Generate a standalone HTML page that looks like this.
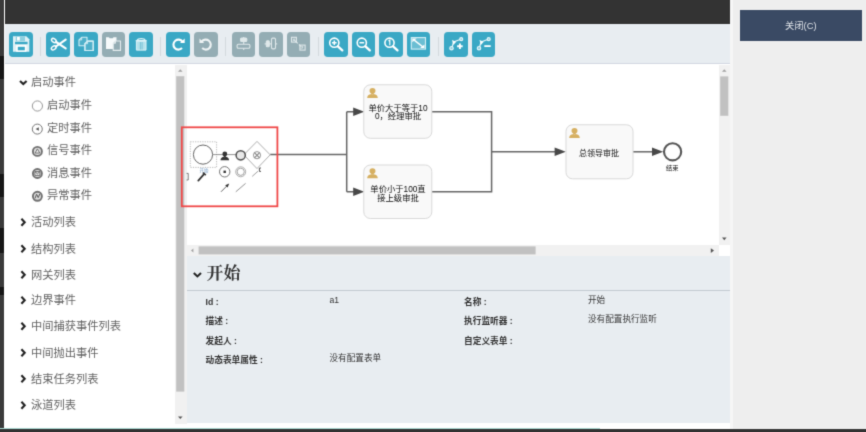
<!DOCTYPE html>
<html lang="zh-CN">
<head>
<meta charset="utf-8">
<title>流程设计器</title>
<style>
html,body{margin:0;padding:0;}
html{overflow:hidden;background:#333;}
body{width:866px;height:432px;overflow:hidden;position:relative;background:#333;font-family:"Liberation Sans","Noto Sans CJK SC",sans-serif;}
#wrap{position:absolute;left:-20px;top:-20px;width:906px;height:472px;overflow:hidden;background:#333;filter:url(#soft);}
#page{position:absolute;left:20px;top:20px;width:866px;height:432px;}
.abs{position:absolute;}
#leftstrip{left:-20px;top:-20px;width:23.8px;height:472px;background:#3a3a3a;}
.dk{position:absolute;left:-20px;width:23.6px;background:#161616;}
#main{left:4.2px;top:-20px;width:729px;height:448.5px;background:#fff;}
#rstrip{left:729.5px;top:-20px;width:3.2px;height:448.5px;background:#f6f6f6;}
#topbar{left:5px;top:-20px;width:724.5px;height:44px;background:#333;}
#toolbar{left:5px;top:24px;width:724.5px;height:38.9px;background:#e8edf1;border-bottom:1.5px solid #d3d8e2;}
.tb{position:absolute;top:32.4px;width:23.8px;height:24.2px;border-radius:3.8px;background:#3aa8c5;}
.tb.dis{background:#94adb4;}
.sep{position:absolute;top:36.5px;width:1px;height:19px;background:#d3d9de;}
#right{left:732.5px;top:-20px;width:153.5px;height:448.5px;background:#eee;}
#closebtn{left:740px;top:9.5px;width:121.5px;height:31px;background:#3a4a64;color:#dfe3e8;font-size:9.3px;line-height:33.4px;text-align:center;}
#palette{left:5px;top:64.5px;width:170.4px;height:359px;background:#fff;}
.ph{position:absolute;left:31px;font-size:11.25px;color:#636363;line-height:14px;white-space:nowrap;}
.pi{position:absolute;left:47px;font-size:11.25px;color:#636363;line-height:14px;white-space:nowrap;}
#pscroll{left:175.4px;top:64.5px;width:11.4px;height:359px;background:#f1f1f1;}
#canvas{left:186.8px;top:64.5px;width:532.2px;height:180.4px;background:#fff;}
#vscroll{left:719px;top:64.5px;width:10.7px;height:180.4px;background:#f1f1f1;}
#hscroll{left:186.8px;top:244.9px;width:532.2px;height:10.9px;background:#f1f1f1;}
#props{left:186.8px;top:255.7px;width:542.9px;height:167.7px;background:#e8edf1;}
#ptitle{left:206.5px;top:263.2px;font-family:"Liberation Serif","Noto Serif CJK SC",serif;font-weight:bold;font-size:16.9px;line-height:22px;color:#333;}
#pdiv{left:186.8px;top:290.3px;width:542.9px;height:1px;background:#c3cad1;}
.pl{position:absolute;font-size:8.7px;font-weight:bold;color:#333;line-height:10px;white-space:nowrap;}
.pv{position:absolute;font-size:8.6px;color:#333;line-height:10px;white-space:nowrap;}
#tealline{left:-20px;top:427.8px;width:620px;height:1.2px;background:#a9d9d2;}
#bottom{left:-20px;top:429px;width:906px;height:23px;background:#333;}
</style>
</head>
<body>
<svg width="0" height="0" style="position:absolute"><filter id="soft" x="0" y="0" width="100%" height="100%" color-interpolation-filters="sRGB"><feConvolveMatrix order="3" kernelMatrix="0.01917 0.10012 0.01917 0.10012 0.52283 0.10012 0.01917 0.10012 0.01917" divisor="1" edgeMode="duplicate" preserveAlpha="true"/></filter></svg>
<div id="wrap"><div id="page">
<div id="leftstrip" class="abs"></div>
<div class="dk" style="top:55.5px;height:23.5px"></div><div class="dk" style="top:174px;height:23px"></div><div class="dk" style="top:228px;height:24.5px"></div><div class="dk" style="top:287px;height:8px"></div>
<div id="main" class="abs"></div>
<div id="right" class="abs"></div>
<div id="rstrip" class="abs"></div>
<div id="topbar" class="abs"></div>
<div id="toolbar" class="abs"></div>
<div class="tb" style="left:9px"></div>
<div class="tb" style="left:46.3px"></div>
<div class="tb" style="left:74.1px"></div>
<div class="tb dis" style="left:101.7px"></div>
<div class="tb" style="left:129.2px"></div>
<div class="tb" style="left:166.4px"></div>
<div class="tb dis" style="left:194px"></div>
<div class="tb dis" style="left:231.7px"></div>
<div class="tb dis" style="left:259.2px"></div>
<div class="tb dis" style="left:286.7px"></div>
<div class="tb" style="left:324px"></div>
<div class="tb" style="left:351.5px"></div>
<div class="tb" style="left:379.2px"></div>
<div class="tb" style="left:406.7px"></div>
<div class="tb" style="left:444.2px"></div>
<div class="tb" style="left:471.7px"></div>
<div class="sep" style="left:40px"></div>
<div class="sep" style="left:160px"></div>
<div class="sep" style="left:225px"></div>
<div class="sep" style="left:317.5px"></div>
<div class="sep" style="left:437.7px"></div>
<div id="closebtn" class="abs">关闭(C)</div>
<div id="palette" class="abs"></div>
<div class="ph" style="top:75px">启动事件</div>
<div class="pi" style="top:98px">启动事件</div>
<div class="pi" style="top:120.5px">定时事件</div>
<div class="pi" style="top:143px">信号事件</div>
<div class="pi" style="top:165.5px">消息事件</div>
<div class="pi" style="top:188px">异常事件</div>
<div class="ph" style="top:215px">活动列表</div>
<div class="ph" style="top:241.5px">结构列表</div>
<div class="ph" style="top:267.5px">网关列表</div>
<div class="ph" style="top:293px">边界事件</div>
<div class="ph" style="top:319px">中间捕获事件列表</div>
<div class="ph" style="top:345.5px">中间抛出事件</div>
<div class="ph" style="top:371.5px">结束任务列表</div>
<div class="ph" style="top:398px">泳道列表</div>
<div id="pscroll" class="abs"></div>
<div id="canvas" class="abs"></div>
<div id="vscroll" class="abs"></div>
<div id="hscroll" class="abs"></div>
<div id="props" class="abs"></div>
<div id="ptitle" class="abs">开始</div>
<div id="pdiv" class="abs"></div>
<div class="pl" style="left:205.5px;top:297px">Id :</div>
<div class="pl" style="left:205.5px;top:316.3px">描述 :</div>
<div class="pl" style="left:205.5px;top:335.5px">发起人 :</div>
<div class="pl" style="left:205.5px;top:354.7px">动态表单属性 :</div>
<div class="pv" style="left:329.5px;top:294.6px">a1</div>
<div class="pv" style="left:329.5px;top:352.6px">没有配置表单</div>
<div class="pl" style="left:464px;top:297px">名称 :</div>
<div class="pl" style="left:464px;top:316.3px">执行监听器 :</div>
<div class="pl" style="left:464px;top:335.5px">自定义表单 :</div>
<div class="pv" style="left:588px;top:294.6px">开始</div>
<div class="pv" style="left:588px;top:313.9px">没有配置执行监听</div>
<svg class="abs" style="left:0;top:0" width="866" height="432" viewBox="0 0 866 432">
<g transform="translate(9,32.5)"><path d="M4,3.8H17.3L20.3,6.8V19.3H4Z" fill="#dff1f6"/><rect x="6.8" y="3.8" width="9.2" height="4.9" fill="#8fd0e0"/><rect x="8" y="4.4" width="2.8" height="3.6" fill="#fff"/><rect x="6" y="9.3" width="12.6" height="2.4" fill="#3aa8c5"/><rect x="7.2" y="12.6" width="10.2" height="6.7" fill="#fff"/><rect x="8.8" y="14.3" width="7" height="3.5" fill="#3aa8c5"/></g>
<g transform="translate(46.3,32.5)"><g fill="none" stroke="#fff" stroke-width="1.4" stroke-linecap="round"><ellipse cx="7.6" cy="8" rx="2.6" ry="1.7" transform="rotate(35 7.6 8)"/><ellipse cx="7.4" cy="15.4" rx="2.6" ry="1.7" transform="rotate(-35 7.4 15.4)"/><path d="M9.8,9.5L19.4,15.8M9.6,14L19.4,7.1" stroke-width="2.1"/></g></g>
<g transform="translate(74.1,32.5)"><g fill="rgba(255,255,255,0.10)" stroke="#d4eef5" stroke-width="1.1" stroke-linejoin="round"><path d="M4.9,7.4L7.6,4.8H12.9V13.3H4.9Z"/><path d="M4.9,7.4H7.6V4.8" fill="none" stroke-width="0.9"/><path d="M10.8,11.2L13.5,8.6H19.1V18H10.8Z" fill="#3aa8c5"/><path d="M10.8,11.2L13.5,8.6H19.1V18H10.8Z"/><path d="M10.8,11.2H13.5V8.6" fill="none" stroke-width="0.9"/></g></g>
<g transform="translate(101.7,32.5)"><path d="M4.3,4.8H7.2L8,5.8H11L11.8,4.8H14.8V16.4H4.3Z" fill="#f6fafb"/><path d="M11.5,10.8L13.8,8.5H18.8V17.9H11.5Z" fill="#94adb4" stroke="#e4ecee" stroke-width="1.1" stroke-linejoin="round"/><path d="M11.5,10.8H13.8V8.5" fill="none" stroke="#e4ecee" stroke-width="0.9"/></g>
<g transform="translate(129.2,32.5)"><g fill="#b4e2ec" stroke="#dff3f8" stroke-width="1"><path d="M7.2,8.6H16.8V17.6H7.2Z"/><path d="M6.5,8.2H17.5M8,8C8.6,5.6 15.4,5.6 16,8" fill="none" stroke-width="1.2"/><path d="M11.2,9.5V17M12.9,9.5V17" stroke="#6fbfd5" stroke-width="0.9"/></g></g>
<g transform="translate(166.4,32.5)"><path d="M16.1,9.2A5,5 0 1 0 15.6,15.6" fill="none" stroke="#fff" stroke-width="2.1"/><path d="M13.6,10.6H18.3V5.9Z" fill="#fff"/></g>
<g transform="translate(194,32.5)"><g transform="translate(23.8,0) scale(-1,1)"><path d="M16.1,9.2A5,5 0 1 0 15.6,15.6" fill="none" stroke="#eef3f4" stroke-width="2.1"/><path d="M13.6,10.6H18.3V5.9Z" fill="#eef3f4"/></g></g>
<g transform="translate(231.7,32.5)"><g stroke="#dfe8ea" fill="none" stroke-width="1.1"><path d="M12,4.4V17.6"/><rect x="8.9" y="5.6" width="6.2" height="3.4" rx="1" fill="#dfe8ea"/><rect x="5.4" y="11.8" width="12.8" height="4" rx="1.3" fill="#94adb4"/></g></g>
<g transform="translate(259.2,32.5)"><g stroke="#dfe8ea" fill="none" stroke-width="1.1"><path d="M5.4,11.4H18"/><rect x="7.1" y="8.3" width="3" height="6" rx="1" fill="#dfe8ea"/><rect x="12.3" y="5.6" width="4" height="10.8" rx="1.3" fill="#94adb4"/></g></g>
<g transform="translate(286.7,32.5)"><g stroke="#dfe8ea" fill="none" stroke-width="1.1"><rect x="4.8" y="4.8" width="4.9" height="4.8"/><rect x="13.2" y="12.6" width="5.2" height="5"/><path d="M7.4,7.4L11,10.8M12.2,12L14.8,14.4" stroke-width="1.1"/><path d="M8.6,6.6H6.6V8.6M13.6,15.6H16V13.4" stroke-width="0.9"/></g></g>
<g transform="translate(324,32.5)"><g fill="none" stroke="#fff"><circle cx="10.3" cy="10.2" r="4.6" stroke-width="1.6"/><path d="M13.9,13.8L18.3,17.9" stroke-width="2.3" stroke-linecap="round"/><path d="M8,10.2H12.6M10.3,7.9V12.5" stroke-width="1.5"/></g></g>
<g transform="translate(351.5,32.5)"><g fill="none" stroke="#fff"><circle cx="10.3" cy="10.2" r="4.6" stroke-width="1.6"/><path d="M13.9,13.8L18.3,17.9" stroke-width="2.3" stroke-linecap="round"/><path d="M8,10.2H12.6" stroke-width="1.5"/></g></g>
<g transform="translate(379.2,32.5)"><g fill="none" stroke="#fff"><circle cx="10.3" cy="10.2" r="4.6" stroke-width="1.6"/><path d="M13.9,13.8L18.3,17.9" stroke-width="2.3" stroke-linecap="round"/><path d="M9.3,8.6L10.6,7.7V12.8" stroke-width="1.2"/></g></g>
<g transform="translate(406.7,32.5)"><rect x="4.6" y="5.1" width="14.2" height="11.5" fill="rgba(255,255,255,0.25)" stroke="#d8f0f6" stroke-width="1.1"/><path d="M7.5,7.6L16,14.2" stroke="#fff" stroke-width="1.4"/><path d="M5.6,6.1H10L5.6,9.8ZM17.8,15.6H13.4L17.8,11.9Z" fill="#fff"/></g>
<g transform="translate(444.2,32.5)"><g stroke="#e6f5f9" fill="none" stroke-width="1.2"><path d="M7.6,15.5L9.4,9.4L16.6,6.8"/><circle cx="7.3" cy="15.7" r="1.7" fill="#8fd0e0"/><circle cx="17" cy="6.7" r="1.5" fill="#8fd0e0"/><path d="M7.8,7.6L12,9.2L9.2,12.4Z" fill="#fff" stroke="none"/><path d="M12.9,13.7H18.5M15.7,10.9V16.5" stroke="#fff" stroke-width="1.9"/></g></g>
<g transform="translate(471.7,32.5)"><g stroke="#e6f5f9" fill="none" stroke-width="1.2"><path d="M7.6,15.5L9.4,9.4L16.6,6.8"/><circle cx="7.3" cy="15.7" r="1.7" fill="#8fd0e0"/><circle cx="17" cy="6.7" r="1.5" fill="#8fd0e0"/><path d="M7.8,7.6L12,9.2L9.2,12.4Z" fill="#fff" stroke="none"/><path d="M12.6,13.6H19" stroke="#fff" stroke-width="1.8"/></g></g>
<g>
<rect x="176.2" y="76.2" width="8.1" height="315.4" fill="#c1c1c1"/>
<path d="M178,71.8L180.3,69.2L182.6,71.8Z" fill="#a0a0a0"/>
<path d="M178,416.4L180.3,419L182.6,416.4Z" fill="#555"/>
<rect x="720.2" y="76.4" width="8.1" height="39.4" fill="#c1c1c1"/>
<path d="M722,71.8L724.3,69.2L726.6,71.8Z" fill="#a0a0a0"/>
<path d="M722,237.6L724.3,240.2L726.6,237.6Z" fill="#555"/>
<rect x="198.6" y="246.4" width="337" height="8" fill="#c1c1c1"/>
<path d="M193.4,248.6L191,250.6L193.4,252.6Z" fill="#a0a0a0"/>
<path d="M710.8,248.2L714,250.6L710.8,253Z" fill="#555"/>
</g>
<g id="diagram" font-family="'Liberation Sans','Noto Sans CJK SC',sans-serif">
<g fill="none" stroke="#666" stroke-width="1.5">
<path d="M270.2,154.6H346.7M346.7,111.7V191.7M346.7,111.7H356M346.7,191.7H356"/>
<path d="M432,111.7H491.6V191.7H432M491.6,151.8H556"/>
<path d="M633,151.8H654"/>
</g>
<g fill="#484848"><path d="M353.2,107.5L364.2,111.7L353.2,115.9Z"/><path d="M353.2,187.5L364.2,191.7L353.2,195.9Z"/>
<path d="M554.6,147.6L565.8,151.8L554.6,156Z"/><path d="M652,147.6L663.2,151.8L652,156Z"/></g>
<g fill="#f9f9f9" stroke="#d9d9d9" stroke-width="1">
<rect x="363.8" y="84.8" width="68" height="53.5" rx="6.5"/>
<rect x="363.8" y="165" width="68" height="53.5" rx="6.5"/>
<rect x="566" y="124.8" width="67" height="54" rx="6.5"/>
</g>
<g transform="translate(367,87.6) scale(1.1,1.04)" fill="#d6b062"><circle cx="5" cy="3" r="2.7"/><path d="M0.2,10C0.2,7.2 2.4,6.4 3.8,6.1L5,6.6L6.2,6.1C7.6,6.4 9.8,7.2 9.8,10Z"/><rect x="3.9" y="4.6" width="2.2" height="2"/></g><g transform="translate(367,167.9) scale(1.1,1.04)" fill="#d6b062"><circle cx="5" cy="3" r="2.7"/><path d="M0.2,10C0.2,7.2 2.4,6.4 3.8,6.1L5,6.6L6.2,6.1C7.6,6.4 9.8,7.2 9.8,10Z"/><rect x="3.9" y="4.6" width="2.2" height="2"/></g><g transform="translate(569,127.6) scale(1.1,1.04)" fill="#d6b062"><circle cx="5" cy="3" r="2.7"/><path d="M0.2,10C0.2,7.2 2.4,6.4 3.8,6.1L5,6.6L6.2,6.1C7.6,6.4 9.8,7.2 9.8,10Z"/><rect x="3.9" y="4.6" width="2.2" height="2"/></g>
<g font-size="8.3" fill="#0d0d0d" text-anchor="middle">
<text x="398" y="110.5">单价大于等于10</text><text x="398" y="119.2">0，经理审批</text>
<text x="398" y="192.2">单价小于100直</text><text x="398" y="200.6">接上级审批</text>
<text x="599" y="156.2" font-size="8">总领导审批</text>
<text x="672.3" y="170" font-size="6.2">结束</text>
</g>
<circle cx="672.6" cy="151.8" r="8.6" fill="#fff" stroke="#555" stroke-width="2.1"/>
<rect x="181.8" y="127.3" width="95.6" height="79" fill="none" stroke="#f04848" stroke-width="1.8"/>
<rect x="190.3" y="141.8" width="26.3" height="25.6" fill="none" stroke="#aaa" stroke-width="0.8" stroke-dasharray="1.2,1.2"/>
<circle cx="203" cy="154.6" r="9.6" fill="#fff" stroke="#666" stroke-width="1"/>
<text x="204" y="171.6" font-size="4.5" fill="#7aa0c8" text-anchor="middle">开始</text>
<path d="M212.8,154.6H236" stroke="#777" stroke-width="0.8"/>
<g transform="translate(220.3,151.3) scale(0.9,0.9)" fill="#333"><circle cx="5" cy="3" r="2.7"/><path d="M0.2,10C0.2,7.2 2.4,6.4 3.8,6.1L5,6.6L6.2,6.1C7.6,6.4 9.8,7.2 9.8,10Z"/><rect x="3.9" y="4.6" width="2.2" height="2"/></g>
<path d="M257,141.4L270.2,154.8L257,168.6L243.8,154.8Z" fill="#fff" stroke="#999" stroke-width="0.8"/>
<circle cx="240.7" cy="155.3" r="4.6" fill="#e8e8e8" stroke="#505050" stroke-width="1.5"/>
<g stroke="#888" stroke-width="0.9" fill="none"><circle cx="257" cy="155.2" r="3.6"/><path d="M254.4,152.6L259.6,157.8M259.6,152.6L254.4,157.8" stroke-width="1.2"/></g>
<circle cx="224.7" cy="171.8" r="5.2" fill="#fff" stroke="#666" stroke-width="0.9"/><rect x="223.5" y="170.6" width="2.4" height="2.4" fill="#333"/>
<circle cx="240.7" cy="171.8" r="5" fill="#fff" stroke="#999" stroke-width="0.8"/><circle cx="240.7" cy="171.8" r="3.6" fill="none" stroke="#999" stroke-width="0.9"/>
<path d="M252.2,176.4L258,171.2" stroke="#888" stroke-width="0.8"/><path d="M261,168H259.4V171.4H261" stroke="#444" stroke-width="0.9" fill="none"/>
<path d="M198.3,180.6L203.6,174.6" stroke="#333" stroke-width="1.8" stroke-linecap="round"/><path d="M203,172.6L205.8,175.2" stroke="#333" stroke-width="1.6"/>
<path d="M186.6,173.4H188.2V180H186.6" stroke="#555" stroke-width="0.8" fill="none"/>
<path d="M221,191.8L227.6,185.2" stroke="#555" stroke-width="0.9"/><path d="M229.2,183.6L225.2,185.2L227.6,187.6Z" fill="#333"/>
<path d="M235.8,191.8L245.6,183.4" stroke="#777" stroke-width="0.8"/>
</g>
<path d="M20,80.9L23.3,84.0L26.6,80.9" fill="none" stroke="#222" stroke-width="2.1"/><path d="M21.4,218.8L24.7,222.3L21.4,225.8" fill="none" stroke="#222" stroke-width="2.1"/><path d="M21.4,245.3L24.7,248.8L21.4,252.3" fill="none" stroke="#222" stroke-width="2.1"/><path d="M21.4,271.3L24.7,274.8L21.4,278.3" fill="none" stroke="#222" stroke-width="2.1"/><path d="M21.4,296.8L24.7,300.3L21.4,303.8" fill="none" stroke="#222" stroke-width="2.1"/><path d="M21.4,322.8L24.7,326.3L21.4,329.8" fill="none" stroke="#222" stroke-width="2.1"/><path d="M21.4,349.3L24.7,352.8L21.4,356.3" fill="none" stroke="#222" stroke-width="2.1"/><path d="M21.4,375.3L24.7,378.8L21.4,382.3" fill="none" stroke="#222" stroke-width="2.1"/><path d="M21.4,401.8L24.7,405.3L21.4,408.8" fill="none" stroke="#222" stroke-width="2.1"/><path d="M193.8,273L197.4,276.40000000000003L201.0,273" fill="none" stroke="#222" stroke-width="2.1"/><g fill="none" stroke="#888" stroke-width="1"><circle cx="37.4" cy="106" r="5.1" stroke="#999"/><circle cx="37.3" cy="129.1" r="5" stroke="#777"/><path d="M38.8,127.2L35.6,129.1L38.8,130.8Z" fill="#555" stroke="none"/><circle cx="37.4" cy="151.4" r="4.5" stroke="#707070" stroke-width="1.9" fill="#ddd"/><path d="M37.4,148.9L39.7,153H35.1Z" stroke="#555" stroke-width="0.8" fill="#f4f4f4"/><circle cx="37.4" cy="173.5" r="4.5" stroke="#707070" stroke-width="1.9" fill="#ddd"/><path d="M34.9,171.6H39.9V175.4H34.9ZM34.9,171.6L37.4,173.9L39.9,171.6" stroke="#555" stroke-width="0.8" fill="#f4f4f4"/><circle cx="37.4" cy="196.3" r="4.5" stroke="#707070" stroke-width="1.9" fill="#ddd"/><path d="M35,198.4L36.6,194.2L38.2,197.6L39.8,194" stroke="#555" stroke-width="1"/></g>
</svg>
<div id="tealline" class="abs"></div>
<div id="bottom" class="abs"></div>
</div></div>
</body>
</html>
